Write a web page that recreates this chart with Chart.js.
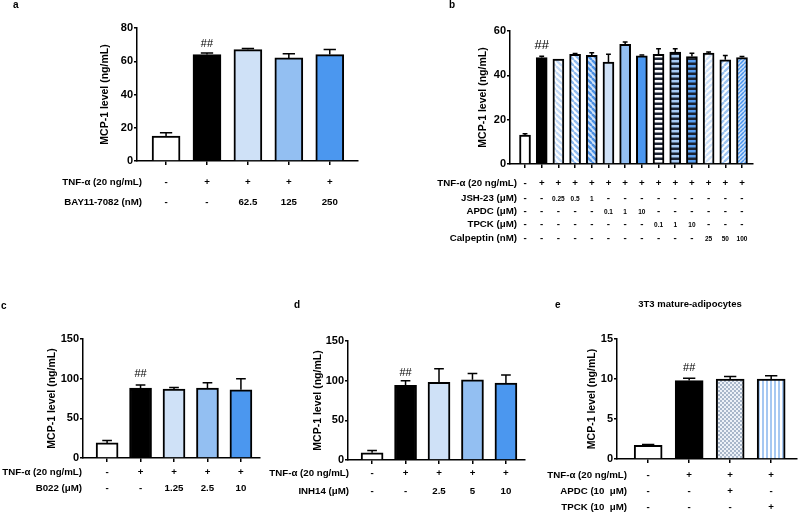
<!DOCTYPE html>
<html lang="en">
<head>
  <meta charset="UTF-8">
  <title>MCP-1 level panels</title>
  <script src="https://cdn.jsdelivr.net/npm/chart.js"></script>
  <style>
    body { margin: 0; background: #fff; }
    #wrap { position: relative; width: 800px; height: 512px; }
    #wrap canvas { position: absolute; }
  </style>
</head>
<body>
  <div id="wrap">
    <canvas id="pa" width="400" height="260" style="left:0;top:0"></canvas>
    <canvas id="pb" width="400" height="260" style="left:400px;top:0"></canvas>
    <canvas id="pc" width="265" height="222" style="left:0;top:290px"></canvas>
    <canvas id="pd" width="265" height="222" style="left:265px;top:290px"></canvas>
    <canvas id="pe" width="270" height="222" style="left:530px;top:290px"></canvas>
  </div>

  <script>
    // ---- data ----
    // panel a
    var aValues = [15, 64, 67, 62, 64];
    var aErrTop = [17, 65, 67.6, 64.5, 67];
    var aTNF = ['-', '+', '+', '+', '+'];
    var aBAY = ['-', '-', '62.5', '125', '250'];

    // panel b
    var bValues = [13, 48, 47.3, 49.5, 49, 46, 54, 48.8, 49.5, 50.5, 48.5, 50, 47, 48];
    var bErrTop = [13.6, 48.6, 47.3, 49.8, 50.2, 49.5, 55, 49.2, 52, 52, 50, 50.5, 49, 48.5];
    var bTNF = ['-', '+', '+', '+', '+', '+', '+', '+', '+', '+', '+', '+', '+', '+'];
    var bJSH = ['-', '-', '0.25', '0.5', '1', '-', '-', '-', '-', '-', '-', '-', '-', '-'];
    var bAPDC = ['-', '-', '-', '-', '-', '0.1', '1', '10', '-', '-', '-', '-', '-', '-'];
    var bTPCK = ['-', '-', '-', '-', '-', '-', '-', '-', '0.1', '1', '10', '-', '-', '-'];
    var bCalp = ['-', '-', '-', '-', '-', '-', '-', '-', '-', '-', '-', '25', '50', '100'];

    // panel c
    var cValues = [19, 88, 87, 88, 86];
    var cErrTop = [22, 92, 89, 95, 100];
    var cTNF = ['-', '+', '+', '+', '+'];
    var cB022 = ['-', '-', '1.25', '2.5', '10'];

    // panel d
    var dValues = [9, 94, 98, 101, 97];
    var dErrTop = [12, 100, 115, 109, 107];
    var dTNF = ['-', '+', '+', '+', '+'];
    var dINH = ['-', '-', '2.5', '5', '10'];

    // panel e
    var eValues = [1.7, 9.8, 10.0, 10.0];
    var eErrTop = [1.8, 10.1, 10.3, 10.4];
    var eTNF = ['-', '+', '+', '+'];
    var eAPDC = ['-', '-', '+', '-'];
    var eTPCK = ['-', '-', '-', '+'];

    var FONT = "'Liberation Sans', Arial, sans-serif";
    var LIGHT = '#cfe1f7', MID = '#93bff2', BLUE = '#4b97ef', DARK = '#1b2231';

    // ---- fill patterns ----
    function tile(size, draw) {
      var c = document.createElement('canvas');
      c.width = size; c.height = size;
      var g = c.getContext('2d');
      draw(g, size);
      return g.createPattern(c, 'repeat');
    }
    function diag(bg, fg, p, dir) {
      return tile(p, function(g, s) {
        g.fillStyle = bg; g.fillRect(0, 0, s, s);
        g.strokeStyle = fg; g.lineWidth = s / 2.6;
        for (var k = -1; k <= 1; k++) {
          g.beginPath();
          if (dir === '\\') { g.moveTo(k * s, 0); g.lineTo(k * s + s, s); }
          else { g.moveTo(k * s, s); g.lineTo(k * s + s, 0); }
          g.stroke();
        }
      });
    }
    function hstripes(bg, fg, p) {
      return tile(p, function(g, s) {
        g.fillStyle = bg; g.fillRect(0, 0, s, s);
        g.fillStyle = fg; g.fillRect(0, 0, s, s / 2);
      });
    }
    function vstripes(bg, fg, p) {
      return tile(p, function(g, s) {
        g.fillStyle = bg; g.fillRect(0, 0, s, s);
        g.fillStyle = fg; g.fillRect(0, 0, s / 2, s);
      });
    }
    function checker(a, b) {
      return tile(4, function(g) {
        g.fillStyle = a; g.fillRect(0, 0, 4, 4);
        g.fillStyle = b; g.fillRect(0, 0, 2, 2); g.fillRect(2, 2, 2, 2);
      });
    }

    // error bars, "##" mark, treatment table and panel letter
    var extras = {
      id: 'extras',
      afterDatasetsDraw: function(chart) {
        var o = chart.options.plugins.extras;
        var ctx = chart.ctx;
        var ys = chart.scales.y;
        var bars = chart.getDatasetMeta(0).data;
        ctx.save();
        ctx.strokeStyle = '#000';
        ctx.lineWidth = 1.5;
        bars.forEach(function(bar, i) {
          var top = ys.getPixelForValue(o.errTop[i]);
          if (top < bar.y - 0.5) {
            var cap = bar.width * 0.22;
            ctx.beginPath();
            ctx.moveTo(bar.x, bar.y);
            ctx.lineTo(bar.x, top);
            ctx.moveTo(bar.x - cap, top);
            ctx.lineTo(bar.x + cap, top);
            ctx.stroke();
          }
        });
        // significance mark over the TNF-only bar
        var b1 = bars[1];
        ctx.fillStyle = '#000';
        ctx.font = o.hashSize + 'px ' + FONT;
        ctx.textAlign = 'center';
        ctx.textBaseline = 'middle';
        ctx.fillText('##', b1.x, ys.getPixelForValue(o.errTop[1]) - o.hashGap);

        // treatment table
        o.rows.forEach(function(row) {
          ctx.font = 'bold 9.7px ' + FONT;
          ctx.textAlign = 'right';
          ctx.fillText(row.label, o.labelRight, row.y);
          ctx.textAlign = 'center';
          row.cells.forEach(function(txt, i) {
            var small = txt !== '+' && txt !== '-' && o.smallNums;
            ctx.font = 'bold ' + (small ? 6.5 : 9.7) + 'px ' + FONT;
            ctx.fillText(txt, bars[i].x, row.y + (small ? 1 : 0));
          });
        });

        ctx.font = 'bold 10px ' + FONT;
        ctx.textAlign = 'left';
        ctx.fillText(o.letter[0], o.letter[1], o.letter[2]);
        if (o.title) {
          ctx.font = 'bold 9.5px ' + FONT;
          ctx.textAlign = 'center';
          ctx.fillText(o.title[0], o.title[1], o.title[2]);
        }
        ctx.restore();
      }
    };

    function panel(id, p) {
      var pts = p.values.map(function(v, i) { return { x: i, y: v }; });
      return new Chart(document.getElementById(id), {
        type: 'bar',
        data: {
          datasets: [{
            data: pts,
            backgroundColor: p.colors,
            borderColor: '#000',
            borderWidth: 2,
            barThickness: p.barWidth
          }]
        },
        plugins: [extras],
        options: {
          responsive: false,
          animation: false,
          layout: { padding: p.pad },
          plugins: {
            legend: { display: false },
            tooltip: { enabled: false },
            extras: p.extras
          },
          scales: {
            x: {
              type: 'linear',
              offset: false,
              bounds: 'data',
              min: p.xMin,
              max: p.xMax,
              afterBuildTicks: function(s) {
                // one tick per bar, and a fixed range so the side margins match
                s.ticks = p.values.map(function(v, i) { return { value: i }; });
                s.min = p.xMin;
                s.max = p.xMax;
              },
              afterFit: function(s) { s.height = 5; },
              ticks: { display: false },
              grid: { offset: false, drawOnChartArea: false, tickLength: 4, color: '#000', lineWidth: 1.5 },
              border: { color: '#000', width: 1.5 }
            },
            y: {
              min: 0,
              max: p.yMax,
              afterFit: function(s) { s.width = p.yWidth; },
              ticks: { stepSize: p.yStep, padding: 1, color: '#000', font: { family: FONT, size: 11, weight: 'bold' } },
              grid: { drawOnChartArea: false, tickLength: 3, color: '#000', lineWidth: 1.5 },
              border: { color: '#000', width: 1.5 },
              title: {
                display: true,
                text: 'MCP-1 level (ng/mL)',
                color: '#000',
                padding: 0,
                font: { family: FONT, size: 10.5, weight: 'bold' }
              }
            }
          }
        }
      });
    }

    var TNF_LABEL = 'TNF-\u03b1 (20 ng/mL)';

    panel('pa', {
      values: aValues, barWidth: 28, xMin: -0.71, xMax: 4.69, yMax: 80, yStep: 20, yWidth: 38,
      pad: { left: 99, right: 42, top: 28, bottom: 94 },
      colors: ['#ffffff', '#000000', LIGHT, MID, BLUE],
      extras: {
        errTop: aErrTop, hashSize: 11, hashGap: 9, labelRight: 142, smallNums: false,
        letter: ['a', 13, 5],
        rows: [{ label: TNF_LABEL, y: 182, cells: aTNF }, { label: 'BAY11-7082 (nM)', y: 202, cells: aBAY }]
      }
    });

    panel('pb', {
      values: bValues, barWidth: 11, xMin: -0.9, xMax: 13.66, yMax: 60, yStep: 20, yWidth: 33,
      pad: { left: 77, right: 47, top: 31, bottom: 91 },
      colors: ['#ffffff', '#000000',
        diag('#ffffff', '#c3d9f5', 6, '\\'), diag('#ffffff', '#8fbbef', 6, '\\'), diag('#cfe1f7', '#4a8fe3', 6, '\\'),
        LIGHT, MID, BLUE,
        hstripes(DARK, '#ffffff', 5), hstripes(DARK, '#a9cbf3', 5), hstripes(DARK, '#5a9ff0', 5),
        diag('#ffffff', '#cfe1f7', 6, '/'), diag('#ffffff', '#9cc3f1', 6, '/'), diag('#cfe1f7', '#4a95ee', 4, '/')],
      extras: {
        errTop: bErrTop, hashSize: 13, hashGap: 11, labelRight: 117, smallNums: true,
        letter: ['b', 49, 5],
        rows: [
          { label: TNF_LABEL, y: 183, cells: bTNF },
          { label: 'JSH-23 (\u03bcM)', y: 198, cells: bJSH },
          { label: 'APDC (\u03bcM)', y: 211, cells: bAPDC },
          { label: 'TPCK (\u03bcM)', y: 224, cells: bTPCK },
          { label: 'Calpeptin (nM)', y: 238, cells: bCalp }
        ]
      }
    });

    panel('pc', {
      values: cValues, barWidth: 22, xMin: -0.72, xMax: 4.57, yMax: 150, yStep: 50, yWidth: 37,
      pad: { left: 46, right: 5, top: 49, bottom: 49 },
      colors: ['#ffffff', '#000000', LIGHT, MID, BLUE],
      extras: {
        errTop: cErrTop, hashSize: 11, hashGap: 11, labelRight: 82, smallNums: false,
        letter: ['c', 1, 16],
        rows: [{ label: TNF_LABEL, y: 182, cells: cTNF }, { label: 'B022 (\u03bcM)', y: 198, cells: cB022 }]
      }
    });

    panel('pd', {
      values: dValues, barWidth: 22, xMin: -0.72, xMax: 4.57, yMax: 150, yStep: 50, yWidth: 36,
      pad: { left: 47, right: 5, top: 51, bottom: 47 },
      colors: ['#ffffff', '#000000', LIGHT, MID, BLUE],
      extras: {
        errTop: dErrTop, hashSize: 11, hashGap: 8, labelRight: 84, smallNums: false,
        letter: ['d', 29, 15],
        rows: [{ label: TNF_LABEL, y: 183, cells: dTNF }, { label: 'INH14 (\u03bcM)', y: 201, cells: dINH }]
      }
    });

    panel('pe', {
      values: eValues, barWidth: 28, xMin: -0.76, xMax: 3.63, yMax: 15, yStep: 5, yWidth: 31,
      pad: { left: 56, right: 3, top: 49, bottom: 48 },
      colors: ['#ffffff', '#000000', checker('#eef2f8', '#a9b7ca'), vstripes('#ffffff', '#a6c8f2', 4)],
      extras: {
        errTop: eErrTop, hashSize: 11, hashGap: 10, labelRight: 97, smallNums: false,
        letter: ['e', 25, 15],
        title: ['3T3 mature-adipocytes', 160, 14],
        rows: [
          { label: TNF_LABEL, y: 185, cells: eTNF },
          { label: 'APDC (10  \u03bcM)', y: 201, cells: eAPDC },
          { label: 'TPCK (10  \u03bcM)', y: 217, cells: eTPCK }
        ]
      }
    });
  </script>
</body>
</html>
